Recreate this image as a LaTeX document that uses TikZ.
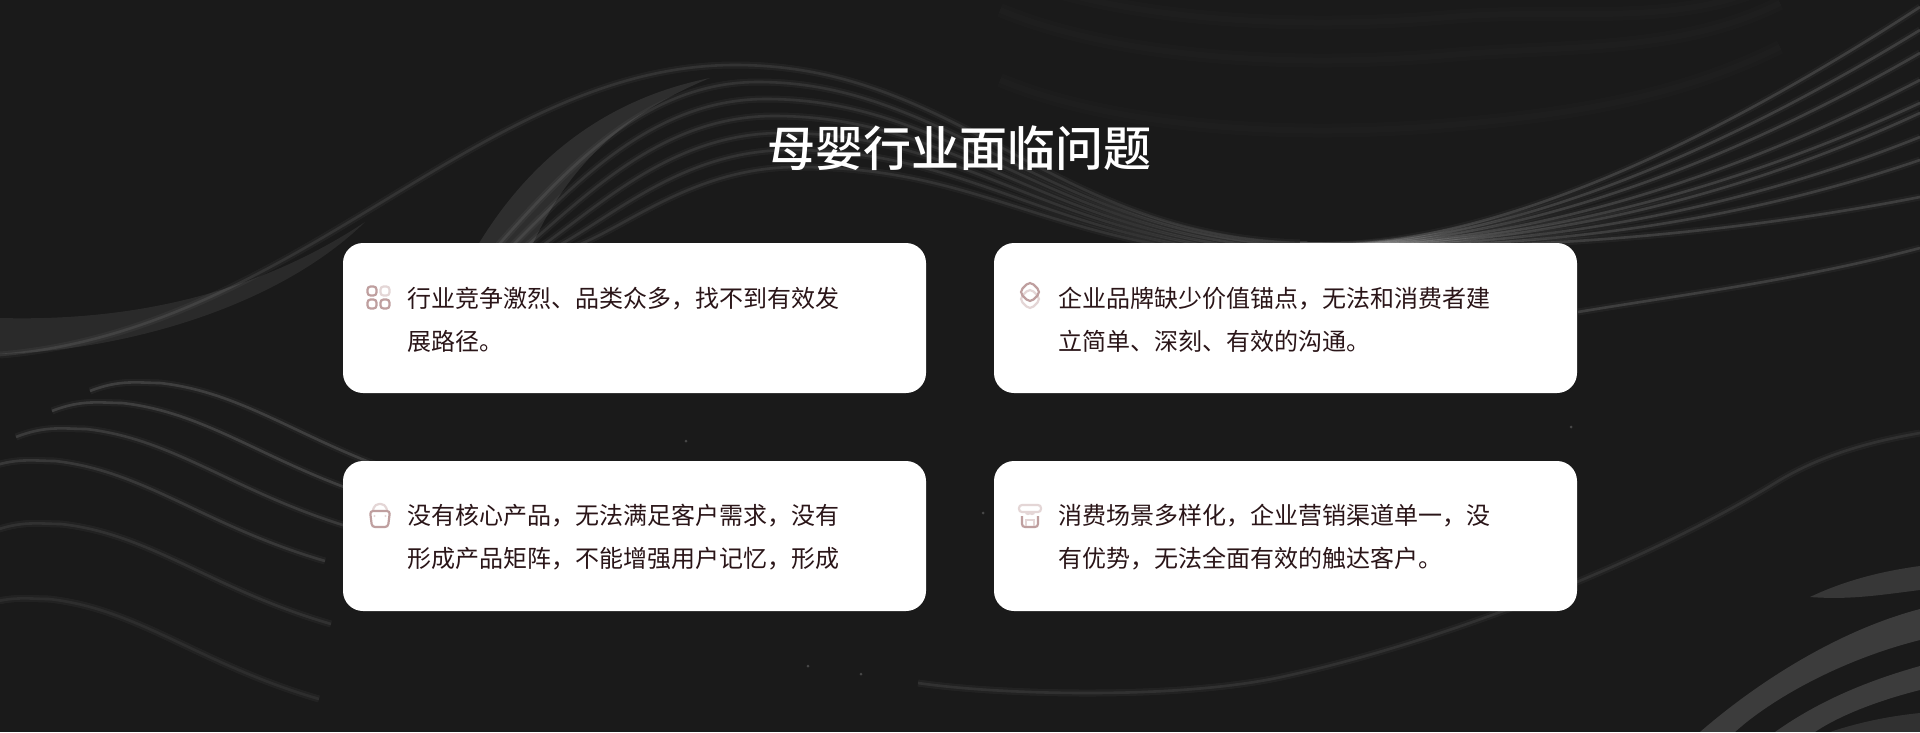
\documentclass[tikz,border=0pt]{standalone}
\usepackage{fontspec}
\newfontfamily\cjk{Noto Sans CJK SC}
\newfontfamily\cjkbold{Noto Sans CJK SC Medium}
\definecolor{bgdark}{HTML}{1A1A1A}
\definecolor{inkdark}{HTML}{2A1518}
\definecolor{icondark}{HTML}{BF9F9F}
\definecolor{iconpale}{HTML}{E4D6D6}
\tikzset{
  strand/.style={draw=white, opacity=.13, line width=2.6pt, preaction={draw=white, opacity=.04, line width=7pt}},
  faintstrand/.style={draw=white, opacity=.012, line width=14pt, preaction={draw=white, opacity=.012, line width=6pt}},
  card/.style={fill=white, rounded corners=20pt, minimum width=583pt, minimum height=150pt, inner sep=0pt},
  cardtext/.style={anchor=west, align=left, text=inkdark, inner sep=0pt, font=\cjk\fontsize{24}{43}\selectfont},
  titletext/.style={text=white, inner sep=0pt, font=\cjkbold\fontsize{48}{48}\selectfont},
  icondk/.style={draw=icondark, line width=2.2pt, rounded corners=3pt},
  iconlt/.style={draw=iconpale, line width=2.2pt, rounded corners=3pt}
}
\begin{document}
\begin{tikzpicture}[x=1pt, y=-1pt]
\fill[bgdark] (0,0) rectangle (1920,732);
\useasboundingbox (0,0) rectangle (1920,732);
\begin{scope}
\clip (0,0) rectangle (1920,732);
\foreach \ya/\yb in {130/87, 60/43, 22/20}
  \draw[faintstrand] (1000,\ya-50) .. controls (1120,\ya) and (1300,\ya+8) .. (1450,\ya-5) .. controls (1570,\ya-15) and (1680,\yb+10) .. (1780,\yb-40);
\fill[white, opacity=.07] (0,318) .. controls (150,322) and (270,285) .. (365,222) .. controls (280,305) and (130,350) .. (0,354) -- cycle;
\draw[strand, opacity=.08] (0,355) .. controls (300,330) and (480,65) .. (735,65) .. controls (960,65) and (1050,235) .. (1300,243);
\fill[white, opacity=.09] (475,250) .. controls (525,165) and (600,100) .. (710,78) .. controls (620,115) and (565,170) .. (530,250) -- cycle;
\foreach \i in {1,...,6}
  \draw[strand, opacity=.08] (480+14*\i,250) .. controls (560+10*\i,150+14*\i) and (640+8*\i,65+17*\i) .. (750+8*\i,65+17*\i) .. controls (940+8*\i,65+17*\i) and (1050,232+3*\i) .. (1300,243+3*\i);
\foreach \yend/\ymid in {7/150, 30/165, 53/180, 80/195, 103/205, 113/215, 137/225, 160/235, 197/240}
  \draw[strand] (1300,245) .. controls (1480,252) and (1700,\ymid) .. (1920,\yend);
\draw[strand, opacity=.13] (1578,312) .. controls (1680,295) and (1800,280) .. (1920,248);
\foreach \x/\y/\o in {160/383/.13, 122/403/.13, 86/429/.11, 55/461/.1, 61/524/.07, 49/599/.05}
  \draw[strand, opacity=\o] (\x-70,\y+8) .. controls (\x-40,\y-4) and (\x-20,\y) .. (\x,\y) .. controls (\x+90,\y+10) and (\x+150,\y+65) .. (\x+270,\y+100);
\draw[strand, opacity=.07] (918,683) .. controls (1000,695) and (1180,700) .. (1286,676) .. controls (1450,640) and (1650,560) .. (1775,483) .. controls (1825,452) and (1880,440) .. (1920,433);
\fill[white, opacity=.13] (1810,597) .. controls (1850,578) and (1890,570) .. (1920,566) -- (1920,590) .. controls (1880,595) and (1850,600) .. (1810,597) -- cycle;
\fill[white, opacity=.15] (1700,732) .. controls (1760,680) and (1840,630) .. (1920,609) -- (1920,640) .. controls (1840,660) and (1770,700) .. (1735,732) -- cycle;
\fill[white, opacity=.15] (1775,732) .. controls (1820,700) and (1870,680) .. (1920,666) -- (1920,690) .. controls (1880,700) and (1840,715) .. (1815,732) -- cycle;
\fill[white, opacity=.1] (1830,732) .. controls (1860,722) and (1890,716) .. (1920,713) -- (1920,732) -- cycle;
\foreach \x/\y in {1571/427, 686/441, 808/666, 861/674, 983/513}
  \fill[white, opacity=.2] (\x,\y) circle (1.5pt);
\end{scope}
\node[titletext] (title) at (959,148) {母婴行业面临问题};
\node[card] (cardA) at (634.5,318) {};
\node[card] (cardB) at (1285.5,318) {};
\node[card] (cardC) at (634.5,536) {};
\node[card] (cardD) at (1285.5,536) {};
\node[cardtext] (textA) at (407,320) {行业竞争激烈、品类众多，找不到有效发\\展路径。};
\node[cardtext] (textB) at (1058,320) {企业品牌缺少价值锚点，无法和消费者建\\立简单、深刻、有效的沟通。};
\node[cardtext] (textC) at (407,537.5) {没有核心产品，无法满足客户需求，没有\\形成产品矩阵，不能增强用户记忆，形成};
\node[cardtext] (textD) at (1058,537.5) {消费场景多样化，企业营销渠道单一，没\\有优势，无法全面有效的触达客户。};
\foreach \x/\y/\s in {372/291/icondk, 385/291/iconlt, 372/304/icondk, 385/304/icondk}
  \draw[\s] (\x-4.5,\y-4.5) rectangle (\x+4.5,\y+4.5);
\draw[iconlt, rounded corners=5pt] (1030,288) -- (1041,299) -- (1030,310) -- (1019,299) -- cycle;
\draw[icondk, rounded corners=5pt] (1030,281) -- (1041,292) -- (1030,303) -- (1019,292) -- cycle;
\draw[iconlt, rounded corners=4pt] (373,510) -- (375,504) -- (385,504) -- (387,510);
\draw[icondk] (370,511) -- (390,511) -- (388,527) -- (372,527) -- cycle;
\fill[iconpale] (374.5,516) circle (1.2pt) (385.5,516) circle (1.2pt);
\draw[iconlt] (1019,505) rectangle (1041,512);
\draw[iconlt, rounded corners=0pt] (1026,512) arc (180:0:2) (1030,512) arc (180:0:2);
\draw[icondk] (1022,516) -- (1022,527) -- (1038,527) -- (1038,516);
\draw[iconlt, rounded corners=0pt] (1026,526) -- (1026,520) -- (1034,520) -- (1034,526);
\end{tikzpicture}
\end{document}
